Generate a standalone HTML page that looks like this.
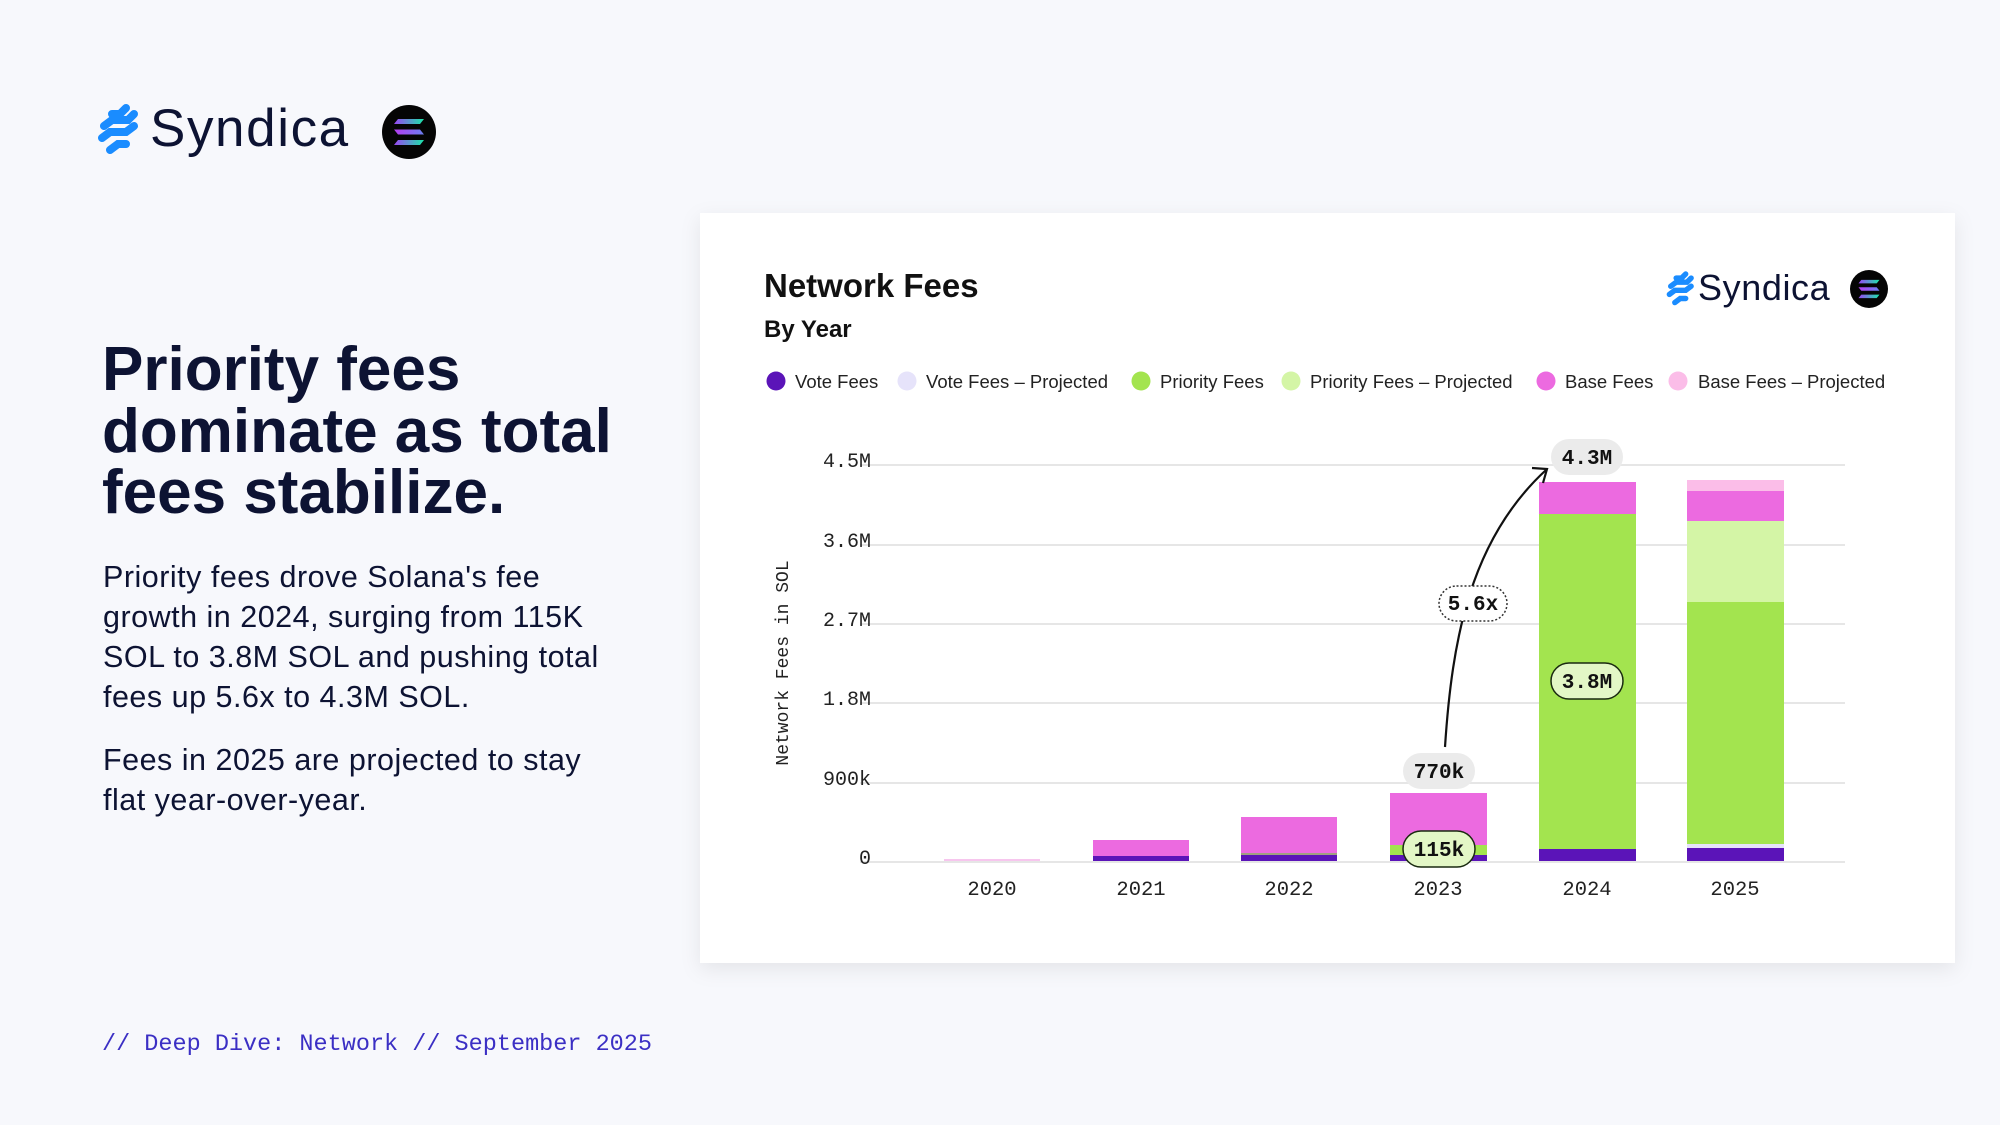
<!DOCTYPE html>
<html><head><meta charset="utf-8"><style>
html,body{margin:0;padding:0;width:2000px;height:1125px;overflow:hidden;background:#f7f8fc;}
svg{display:block}
</style></head><body>
<svg width="2000" height="1125" viewBox="0 0 2000 1125" xmlns="http://www.w3.org/2000/svg">
<defs>
<linearGradient id="sol" x1="0" y1="0" x2="1" y2="0"><stop offset="0" stop-color="#9b45f5"/><stop offset="1" stop-color="#19e6a8"/></linearGradient>
<linearGradient id="sol2" x1="0" y1="0" x2="1" y2="0"><stop offset="0" stop-color="#b53cf0"/><stop offset="1" stop-color="#6a7ff0"/></linearGradient>
<filter id="sh" x="-5%" y="-5%" width="110%" height="115%"><feDropShadow dx="0" dy="6" stdDeviation="10" flood-color="#000" flood-opacity="0.08"/></filter>
</defs>

<!-- top-left logo -->
<g transform="translate(100,108)">
 <g stroke="#1a8cff" stroke-width="8" stroke-linecap="round" fill="none">
  <path d="M12,6 L20,6 L26,0"/>
  <path d="M4,18 L12,12 L28,12 L34,6"/>
  <path d="M2,30 L10,24 L26,24 L34,18"/>
  <path d="M10,42 L18,36 L26,36"/>
 </g>
</g>
<text x="150" y="146" font-family="Liberation Sans, sans-serif" font-size="53" letter-spacing="1.6" fill="#0d1333">Syndica</text>
<circle cx="409" cy="132" r="27" fill="#050505"/>
<g transform="translate(409,132)">
 <path d="M-11,-13 L15,-13 L11,-8 L-15,-8 Z" fill="url(#sol)"/>
 <path d="M-15,-2.5 L11,-2.5 L15,2.5 L-11,2.5 Z" fill="url(#sol2)"/>
 <path d="M-11,8 L15,8 L11,13 L-15,13 Z" fill="url(#sol)"/>
</g>

<!-- headline -->
<g font-family="Liberation Sans, sans-serif" font-weight="bold" font-size="62" fill="#0d1333">
 <text x="102" y="390">Priority fees</text>
 <text x="102" y="452">dominate as total</text>
 <text x="102" y="513">fees stabilize.</text>
</g>
<g font-family="Liberation Sans, sans-serif" font-size="30.5" letter-spacing="0.5" fill="#0d1333">
 <text x="103" y="587">Priority fees drove Solana's fee</text>
 <text x="103" y="627">growth in 2024, surging from 115K</text>
 <text x="103" y="667">SOL to 3.8M SOL and pushing total</text>
 <text x="103" y="707">fees up 5.6x to 4.3M SOL.</text>
 <text x="103" y="770">Fees in 2025 are projected to stay</text>
 <text x="103" y="810">flat year-over-year.</text>
</g>
<text x="102" y="1050" font-family="Liberation Mono, monospace" font-size="23.5" fill="#3b2fc4">// Deep Dive: Network // September 2025</text>

<!-- card -->
<rect x="700" y="213" width="1255" height="750" fill="#fff" filter="url(#sh)"/>
<text x="764" y="297" font-family="Liberation Sans, sans-serif" font-weight="bold" font-size="33" fill="#111">Network Fees</text>
<text x="764" y="337" font-family="Liberation Sans, sans-serif" font-weight="bold" font-size="24" fill="#111">By Year</text>

<g transform="translate(1668,274) scale(0.68)">
 <g stroke="#1a8cff" stroke-width="8" stroke-linecap="round" fill="none">
  <path d="M12,6 L20,6 L26,0"/><path d="M4,18 L12,12 L28,12 L34,6"/><path d="M2,30 L10,24 L26,24 L34,18"/><path d="M10,42 L18,36 L26,36"/>
 </g>
</g>
<text x="1698" y="300" font-family="Liberation Sans, sans-serif" font-size="36" letter-spacing="0.6" fill="#0d1333">Syndica</text>
<circle cx="1869" cy="289" r="19" fill="#050505"/>
<g transform="translate(1869,289) scale(0.7)">
 <path d="M-11,-13 L15,-13 L11,-8 L-15,-8 Z" fill="url(#sol)"/>
 <path d="M-15,-2.5 L11,-2.5 L15,2.5 L-11,2.5 Z" fill="url(#sol2)"/>
 <path d="M-11,8 L15,8 L11,13 L-15,13 Z" fill="url(#sol)"/>
</g>

<!-- legend -->
<g font-family="Liberation Sans, sans-serif" font-size="18.5" fill="#222">
 <circle cx="776" cy="381" r="9.5" fill="#5b14b8"/><text x="795" y="388">Vote Fees</text>
 <circle cx="907" cy="381" r="9.5" fill="#e6e3fa"/><text x="926" y="388">Vote Fees – Projected</text>
 <circle cx="1141" cy="381" r="9.5" fill="#a3e44f"/><text x="1160" y="388">Priority Fees</text>
 <circle cx="1291" cy="381" r="9.5" fill="#d4f5a6"/><text x="1310" y="388">Priority Fees – Projected</text>
 <circle cx="1546" cy="381" r="9.5" fill="#ec6ae0"/><text x="1565" y="388">Base Fees</text>
 <circle cx="1678" cy="381" r="9.5" fill="#fbbde8"/><text x="1698" y="388">Base Fees – Projected</text>
</g>

<!-- grid -->
<g stroke="#e6e6e6" stroke-width="2">
 <line x1="860" y1="465" x2="1845" y2="465"/>
 <line x1="860" y1="545" x2="1845" y2="545"/>
 <line x1="860" y1="624" x2="1845" y2="624"/>
 <line x1="860" y1="703" x2="1845" y2="703"/>
 <line x1="860" y1="783" x2="1845" y2="783"/>
 <line x1="860" y1="862" x2="1845" y2="862"/>
</g>
<g font-family="Liberation Mono, monospace" font-size="20" fill="#222" text-anchor="end">
 <text x="871" y="467">4.5M</text>
 <text x="871" y="547">3.6M</text>
 <text x="871" y="626">2.7M</text>
 <text x="871" y="705">1.8M</text>
 <text x="871" y="785">900k</text>
 <text x="871" y="864">0</text>
</g>
<text transform="translate(788,663) rotate(-90)" text-anchor="middle" font-family="Liberation Mono, monospace" font-size="18" fill="#222">Network Fees in SOL</text>

<!-- bars -->
<rect x="944" y="859" width="96" height="2" fill="#f7c6ee"/>
<rect x="1093" y="840" width="96" height="16" fill="#ec6ae0"/>
<rect x="1093" y="856" width="96" height="5" fill="#5b14b8"/>
<rect x="1241" y="817" width="96" height="37" fill="#ec6ae0"/>
<rect x="1241" y="853" width="96" height="2" fill="#a0a080"/>
<rect x="1241" y="855" width="96" height="6" fill="#5b14b8"/>
<rect x="1390" y="793" width="97" height="52" fill="#ec6ae0"/>
<rect x="1390" y="845" width="97" height="10" fill="#a3e44f"/>
<rect x="1390" y="855" width="97" height="6" fill="#5b14b8"/>
<rect x="1539" y="482" width="97" height="32" fill="#ec6ae0"/>
<rect x="1539" y="514" width="97" height="335" fill="#a3e44f"/>
<rect x="1539" y="849" width="97" height="12" fill="#5b14b8"/>
<rect x="1687" y="480" width="97" height="11" fill="#fbbde8"/>
<rect x="1687" y="491" width="97" height="30" fill="#ec6ae0"/>
<rect x="1687" y="521" width="97" height="81" fill="#d4f5a6"/>
<rect x="1687" y="602" width="97" height="242" fill="#a3e44f"/>
<rect x="1687" y="844" width="97" height="4" fill="#e6e3fa"/>
<rect x="1687" y="848" width="97" height="13" fill="#5b14b8"/>

<g font-family="Liberation Mono, monospace" font-size="20.5" fill="#222" text-anchor="middle">
 <text x="992" y="895">2020</text>
 <text x="1141" y="895">2021</text>
 <text x="1289" y="895">2022</text>
 <text x="1438" y="895">2023</text>
 <text x="1587" y="895">2024</text>
 <text x="1735" y="895">2025</text>
</g>

<!-- arrow -->
<path d="M1445,747 C1452,640 1470,540 1546,470" fill="none" stroke="#111" stroke-width="2.2"/>
<path d="M1532,468 L1547,469 L1543,483" fill="none" stroke="#111" stroke-width="2.2"/>

<!-- pills -->
<g font-family="Liberation Mono, monospace" font-weight="bold" font-size="21" fill="#111" text-anchor="middle">
 <rect x="1551" y="439" width="72" height="36" rx="18" fill="#ebebeb"/><text x="1587" y="464">4.3M</text>
 <rect x="1439" y="586" width="68" height="35" rx="17.5" fill="#fff" stroke="#333" stroke-width="1.5" stroke-dasharray="2,2"/><text x="1473" y="610">5.6x</text>
 <rect x="1551" y="663" width="72" height="36" rx="18" fill="#e3f7c6" stroke="#1a2a10" stroke-width="1.5"/><text x="1587" y="688">3.8M</text>
 <rect x="1403" y="753" width="72" height="36" rx="18" fill="#ebebeb"/><text x="1439" y="778">770k</text>
 <rect x="1403" y="831" width="72" height="36" rx="18" fill="#e3f7c6" stroke="#1a2a10" stroke-width="1.5"/><text x="1439" y="856">115k</text>
</g>
</svg>
</body></html>
